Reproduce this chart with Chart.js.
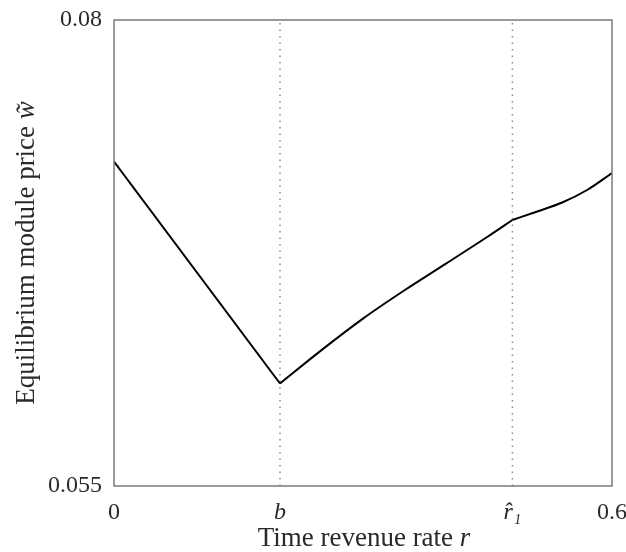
<!DOCTYPE html>
<html>
<head>
<meta charset="utf-8">
<script src="https://cdn.jsdelivr.net/npm/chart.js@4"></script>
<style>
  html, body { margin: 0; padding: 0; background: #fff; }
  #wrap { width: 626px; height: 552px; }
</style>
</head>
<body>
<div id="wrap"><canvas id="priceChart" width="626" height="552"></canvas></div>
<script>
// values
const rateValues = [0, 0.2, 0.25, 0.3, 0.35, 0.4, 0.45, 0.48, 0.51, 0.54, 0.57, 0.6];
const priceValues = [0.0724, 0.0605, 0.06229, 0.06398, 0.0655, 0.06693, 0.06837, 0.06927, 0.06973, 0.07021, 0.07088, 0.07179];

const xTickValues = [0, 0.2, 0.48, 0.6];
const xTickLabels = ["0", "b", "r\u0302\u2081", "0.6"];
const xTickItalic = [false, true, true, false];
const yTickValues = [0.055, 0.08];
const yTickLabels = ["0.055", "0.08"];

const markerRates = [0.2, 0.48]; // b and r-hat-1
const yMin = 0.055, yMax = 0.08;

const serif = "'Liberation Serif', 'DejaVu Serif', serif";

document.addEventListener("DOMContentLoaded", function () {
  const ctx = document.getElementById("priceChart");

  const pts = rateValues.map((r, i) => ({ x: r, y: priceValues[i] }));

  // split the curve at the kinks (b and r-hat) so each piece is smoothed on its own
  const breaks = [0, ...markerRates.map((m) => rateValues.indexOf(m)), rateValues.length - 1];
  const pieces = [];
  for (let k = 0; k < breaks.length - 1; k++) {
    pieces.push({
      data: pts.slice(breaks[k], breaks[k + 1] + 1),
      borderColor: "#000",
      borderWidth: 2,
      pointRadius: 0,
      cubicInterpolationMode: "monotone",
      order: 1,
    });
  }

  // dotted guide lines at b and r-hat
  const guides = markerRates.map((r) => ({
    data: [{ x: r, y: yMin }, { x: r, y: yMax }],
    borderColor: "#8a8a8a",
    borderWidth: 1.5,
    borderDash: [1.5, 5],
    pointRadius: 0,
    order: 2,
  }));

  // box round the plot + axis titles with italic symbols
  const framePlugin = {
    id: "frame",
    afterDraw(chart) {
      const { ctx: c, chartArea: a } = chart;
      c.save();
      c.strokeStyle = "#7a7a7a";
      c.lineWidth = 1.5;
      c.strokeRect(a.left, a.top, a.right - a.left, a.bottom - a.top);

      c.fillStyle = "#2a2a2a";
      c.textBaseline = "middle";
      c.textAlign = "left";
      const fs = "27px " + serif;
      // x title
      const xa = "Time revenue rate ";
      const xb = "r";
      c.font = fs;
      const w1 = c.measureText(xa).width;
      c.font = "italic " + fs;
      const w2 = c.measureText(xb).width;
      let sx = 364 - (w1 + w2) / 2;
      c.font = fs;
      c.fillText(xa, sx, 539);
      c.font = "italic " + fs;
      c.fillText(xb, sx + w1, 539);

      // y title
      c.translate(27, (a.top + a.bottom) / 2);
      c.rotate(-Math.PI / 2);
      const ya = "Equilibrium module price ";
      const yb = "w\u0303";
      c.font = fs;
      const h1 = c.measureText(ya).width;
      c.font = "italic " + fs;
      const h2 = c.measureText(yb).width;
      sx = -(h1 + h2) / 2;
      c.font = fs;
      c.fillText(ya, sx, 0);
      c.font = "italic " + fs;
      c.fillText(yb, sx + h1, 0);
      c.restore();
    },
  };

  new Chart(ctx, {
    type: "line",
    data: { datasets: [...pieces, ...guides] },
    options: {
      responsive: false,
      animation: false,
      events: [],
      layout: { padding: { top: 20, right: 14, left: 0, bottom: 0 } },
      plugins: { legend: { display: false }, tooltip: { enabled: false } },
      scales: {
        x: {
          type: "linear",
          min: 0,
          max: 0.6,
          grid: { display: false, drawTicks: false },
          border: { display: false },
          afterBuildTicks: (s) => { s.ticks = xTickValues.map((v) => ({ value: v })); },
          afterFit: (s) => { s.height = 66; s.paddingLeft = 0; s.paddingRight = 0; },
          ticks: {
            padding: 12,
            color: "#2a2a2a",
            maxRotation: 0,
            autoSkip: false,
            font: (c) => ({
              family: serif,
              size: 24,
              style: xTickItalic[c.index] ? "italic" : "normal",
            }),
            callback: (v, i) => xTickLabels[i],
          },
        },
        y: {
          min: yMin,
          max: yMax,
          grid: { display: false, drawTicks: false },
          border: { display: false },
          afterBuildTicks: (s) => { s.ticks = yTickValues.map((v) => ({ value: v })); },
          afterFit: (s) => { s.width = 114; s.paddingTop = 0; s.paddingBottom = 0; },
          ticks: {
            padding: 12,
            color: "#2a2a2a",
            autoSkip: false,
            font: { family: serif, size: 24 },
            callback: (v, i) => yTickLabels[i],
          },
        },
      },
    },
    plugins: [framePlugin],
  });
});
</script>
</body>
</html>
